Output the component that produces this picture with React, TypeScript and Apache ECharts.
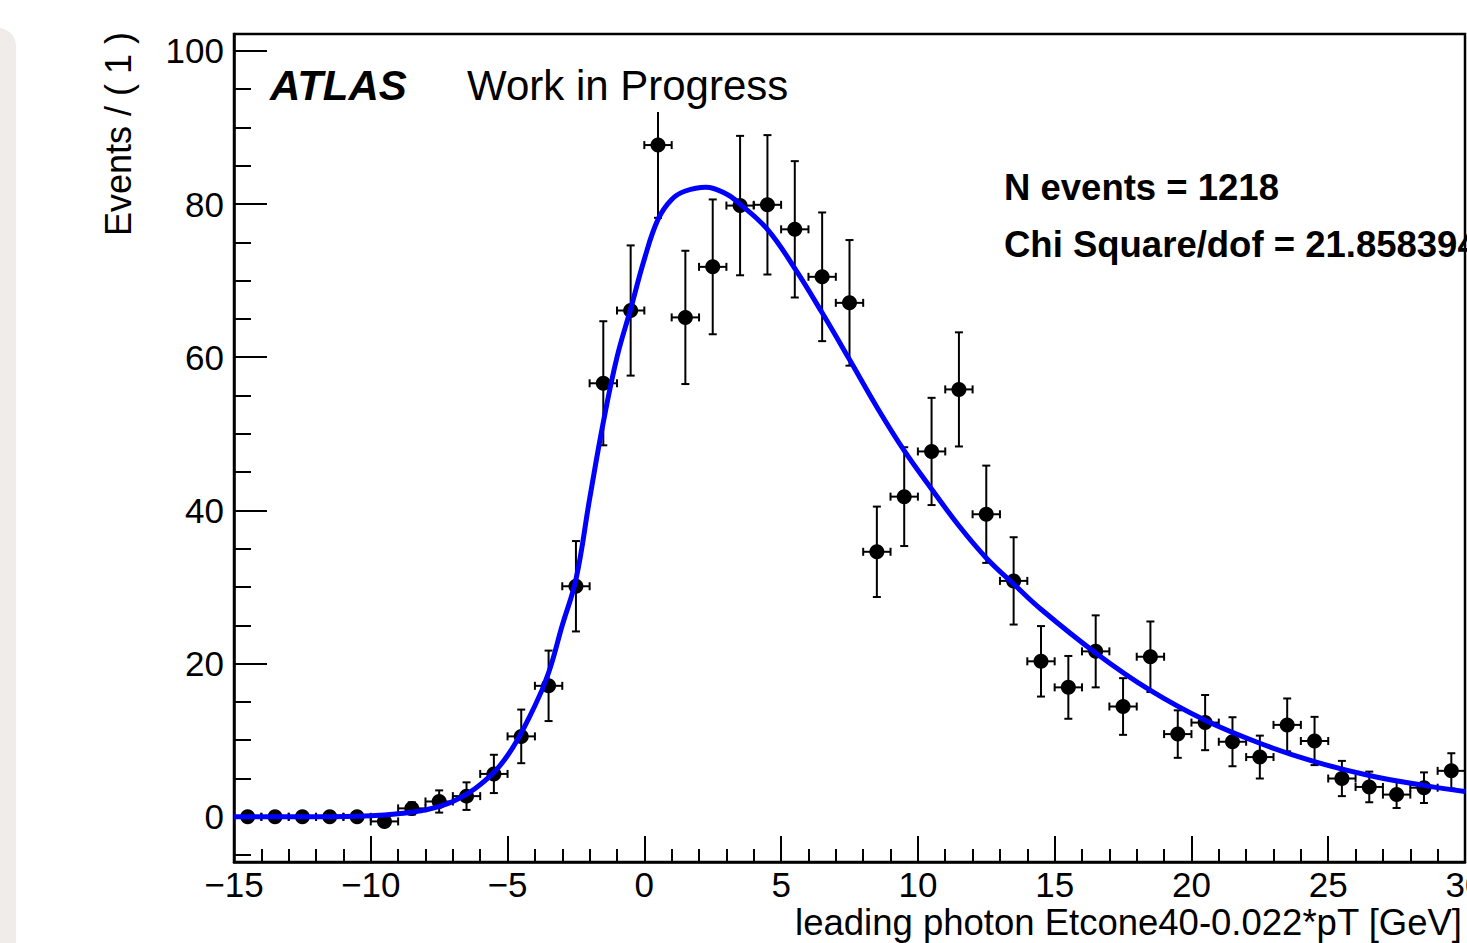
import React, { useEffect, useRef } from "react";
import * as echarts from "echarts";

const FONT = '"Liberation Sans", Arial, Helvetica, sans-serif';

// Bin centres (bin width 1) of the measured distribution
const binCenters = [
  -14.5, -13.5, -12.5, -11.5, -10.5, -9.5, -8.5, -7.5, -6.5, -5.5, -4.5, -3.5, -2.5, -1.5, -0.5,
  0.5, 1.5, 2.5, 3.5, 4.5, 5.5, 6.5, 7.5, 8.5, 9.5, 10.5, 11.5, 12.5, 13.5, 14.5,
  15.5, 16.5, 17.5, 18.5, 19.5, 20.5, 21.5, 22.5, 23.5, 24.5, 25.5, 26.5, 27.5, 28.5, 29.5,
];
// Events per bin
const counts = [
  0, 0, 0, 0, 0, -0.6, 1.1, 2.0, 2.7, 5.6, 10.5, 17.1, 30.1, 56.6, 66.1,
  87.7, 65.2, 71.8, 79.8, 79.9, 76.7, 70.5, 67.1, 34.6, 41.8, 47.7, 55.8, 39.5, 30.8, 20.3,
  16.9, 21.6, 14.4, 20.9, 10.8, 12.3, 9.8, 7.8, 12.0, 9.9, 5.0, 3.9, 2.9, 3.8, 6.0,
];
// Vertical error bars
const errors = [
  0, 0, 0, 0, 0, 0.5, 0.8, 1.45, 1.8, 2.5, 3.5, 4.6, 5.9, 8.1, 8.5,
  9.5, 8.7, 8.8, 9.1, 9.1, 8.9, 8.4, 8.2, 5.9, 6.45, 7.0, 7.45, 6.35, 5.7, 4.6,
  4.1, 4.7, 3.7, 4.6, 3.1, 3.6, 3.2, 2.8, 3.45, 3.15, 2.3, 2.0, 1.75, 2.0, 2.3,
];
const binHalfWidth = 0.5;

// Fitted curve
const fitX = [
  -15, -12, -10, -9, -8, -7, -6, -5, -4, -3.5, -3, -2.5, -2, -1.5, -1, -0.5, 0, 0.5, 1, 1.5,
  2.25, 3, 3.5, 4.5, 5.5, 6.5, 7.5, 8.5, 9.5, 10.5, 11.5, 12.5, 13.5, 14.5, 16.5, 18.5, 20.5,
  22.5, 24.5, 26.5, 28.5, 30,
];
const fitY = [
  0, 0.02, 0.15, 0.4, 0.9, 2.0, 4.2, 8.0, 14.5, 18.8, 25.0, 31.0, 41.5, 51.5, 60.0, 66.3, 72.8,
  78.0, 80.6, 81.7, 82.2, 81.3, 80.0, 76.7, 71.6, 65.8, 59.7, 53.5, 47.8, 42.8, 38.0, 33.8, 30.4,
  27.1, 21.4, 16.5, 12.6, 9.6, 7.2, 5.4, 4.1, 3.3,
];

const yMajorTicks = [0, 20, 40, 60, 80, 100];
const yMinorTicks = [-5, 5, 10, 15, 25, 30, 35, 45, 50, 55, 65, 70, 75, 85, 90, 95];

const texts = {
  yTitle: "Events / ( 1 )",
  xTitle: "leading photon Etcone40-0.022*pT [GeV]",
  atlas: "ATLAS",
  wip: "Work in Progress",
  nEvents: "N events = 1218",
  chi2: "Chi Square/dof = 21.858394",
};

export default function App() {
  const ref = useRef<HTMLDivElement>(null);

  useEffect(() => {
    document.documentElement.style.overflow = "hidden";
    document.body.style.overflow = "hidden";
    document.body.style.margin = "0";
    if (!ref.current) return;
    const chart = echarts.init(ref.current, null, { renderer: "svg" });

    const points = binCenters.map((x, i) => [x, counts[i], errors[i]]);
    const curve = fitX.map((x, i) => [x, fitY[i]]);
    const black = "#000";

    const option: any = {
      animation: false,
      backgroundColor: "#fff",
      grid: {
        left: 234,
        top: 34,
        right: 2,
        bottom: 81,
        containLabel: false,
        outerBoundsMode: "none",
        show: true,
        borderColor: black,
        borderWidth: 2.5,
        backgroundColor: "transparent",
      },
      xAxis: {
        type: "value",
        min: -15,
        max: 30,
        interval: 5,
        axisLine: { show: true, onZero: false, lineStyle: { color: black, width: 2.5 } },
        axisTick: { show: true, inside: true, length: 26, lineStyle: { color: black, width: 2 } },
        minorTick: { show: true, splitNumber: 5, length: 13, lineStyle: { color: black, width: 2 } },
        splitLine: { show: false },
        minorSplitLine: { show: false },
        axisLabel: {
          color: black,
          fontSize: 35,
          lineHeight: 30,
          fontFamily: FONT,
          margin: 7,
          showMinLabel: true,
          showMaxLabel: true,
          formatter: (v: number) => String(v).replace("-", "\u2212"),
        },
      },
      yAxis: [
        {
          type: "value",
          min: -5.9,
          max: 102.2,
          position: "left",
          axisLine: { show: true, onZero: false, lineStyle: { color: black, width: 2.5 } },
          axisTick: {
            show: true,
            inside: true,
            length: 33,
            customValues: yMajorTicks,
            lineStyle: { color: black, width: 2 },
          },
          axisLabel: {
            customValues: yMajorTicks,
            color: black,
            fontSize: 35,
            fontFamily: FONT,
            margin: 10,
          },
          splitLine: { show: false },
        },
        {
          type: "value",
          min: -5.9,
          max: 102.2,
          position: "left",
          offset: 0,
          axisLine: { show: false, onZero: false },
          axisTick: {
            show: true,
            inside: true,
            length: 17,
            customValues: yMinorTicks,
            lineStyle: { color: black, width: 2 },
          },
          axisLabel: { show: false },
          splitLine: { show: false },
        },
      ],
      series: [
        {
          type: "custom",
          z: 2,
          data: points,
          encode: { x: 0, y: 1 },
          renderItem: (params: any, api: any) => {
            const x = api.value(0);
            const y = api.value(1);
            const e = api.value(2);
            const c = api.coord([x, y]);
            const l = api.coord([x - binHalfWidth, y]);
            const r = api.coord([x + binHalfWidth, y]);
            const style = { stroke: black, lineWidth: 2 };
            const cap = 4;
            const children: any[] = [
              { type: "line", shape: { x1: l[0], y1: c[1], x2: r[0], y2: c[1] }, style },
              { type: "line", shape: { x1: l[0], y1: c[1] - cap, x2: l[0], y2: c[1] + cap }, style },
              { type: "line", shape: { x1: r[0], y1: c[1] - cap, x2: r[0], y2: c[1] + cap }, style },
            ];
            if (e > 0) {
              const t = api.coord([x, y + e]);
              const b = api.coord([x, y - e]);
              children.push(
                { type: "line", shape: { x1: c[0], y1: t[1], x2: c[0], y2: b[1] }, style },
                { type: "line", shape: { x1: c[0] - cap, y1: t[1], x2: c[0] + cap, y2: t[1] }, style },
                { type: "line", shape: { x1: c[0] - cap, y1: b[1], x2: c[0] + cap, y2: b[1] }, style }
              );
            }
            return { type: "group", children };
          },
        },
        {
          type: "scatter",
          z: 3,
          data: points.map((p) => [p[0], p[1]]),
          symbol: "circle",
          symbolSize: 15,
          itemStyle: { color: black, opacity: 1 },
        },
        {
          type: "line",
          z: 4,
          data: curve,
          showSymbol: false,
          symbol: "none",
          smooth: 0.4,
          lineStyle: { color: "#0000ff", width: 5 },
        },
      ],
      graphic: [
        {
          type: "rect",
          z: 0,
          shape: { x: -30, y: 28, width: 46, height: 1000, r: 18 },
          style: { fill: "#efecea" },
        },
        {
          type: "rect",
          z: 50,
          shape: { x: 272, y: 37, width: 530, height: 75 },
          style: { fill: "#fff" },
        },
        {
          type: "text",
          z: 60,
          x: 270,
          y: 85,
          style: {
            text: texts.atlas,
            font: `italic bold 42px ${FONT}`,
            fill: black,
            textAlign: "left",
            textVerticalAlign: "middle",
            align: "left",
            verticalAlign: "middle",
          },
        },
        {
          type: "text",
          z: 60,
          x: 467,
          y: 85,
          style: {
            text: texts.wip,
            font: `42px ${FONT}`,
            fill: black,
            textAlign: "left",
            textVerticalAlign: "middle",
            align: "left",
            verticalAlign: "middle",
          },
        },
        {
          type: "text",
          z: 60,
          x: 1004,
          y: 187,
          style: {
            text: texts.nEvents,
            font: `bold 36.5px ${FONT}`,
            fill: black,
            textAlign: "left",
            textVerticalAlign: "middle",
            align: "left",
            verticalAlign: "middle",
          },
        },
        {
          type: "text",
          z: 60,
          x: 1004,
          y: 244,
          style: {
            text: texts.chi2,
            font: `bold 36.5px ${FONT}`,
            fill: black,
            textAlign: "left",
            textVerticalAlign: "middle",
            align: "left",
            verticalAlign: "middle",
          },
        },
        {
          type: "text",
          z: 60,
          x: 1462,
          y: 922,
          style: {
            text: texts.xTitle,
            font: `36.5px ${FONT}`,
            lineHeight: 32,
            fill: black,
            textAlign: "right",
            textVerticalAlign: "middle",
            align: "right",
            verticalAlign: "middle",
          },
        },
        {
          type: "text",
          z: 60,
          x: 118,
          y: 32,
          rotation: Math.PI / 2,
          style: {
            text: texts.yTitle,
            font: `36px ${FONT}`,
            fill: black,
            textAlign: "right",
            textVerticalAlign: "middle",
            align: "right",
            verticalAlign: "middle",
          },
        },
      ],
    };

    chart.setOption(option);
    return () => chart.dispose();
  }, []);

  return (
    <div
      ref={ref}
      style={{ position: "fixed", left: 0, top: 0, width: 1467, height: 943, background: "#fff" }}
    />
  );
}
